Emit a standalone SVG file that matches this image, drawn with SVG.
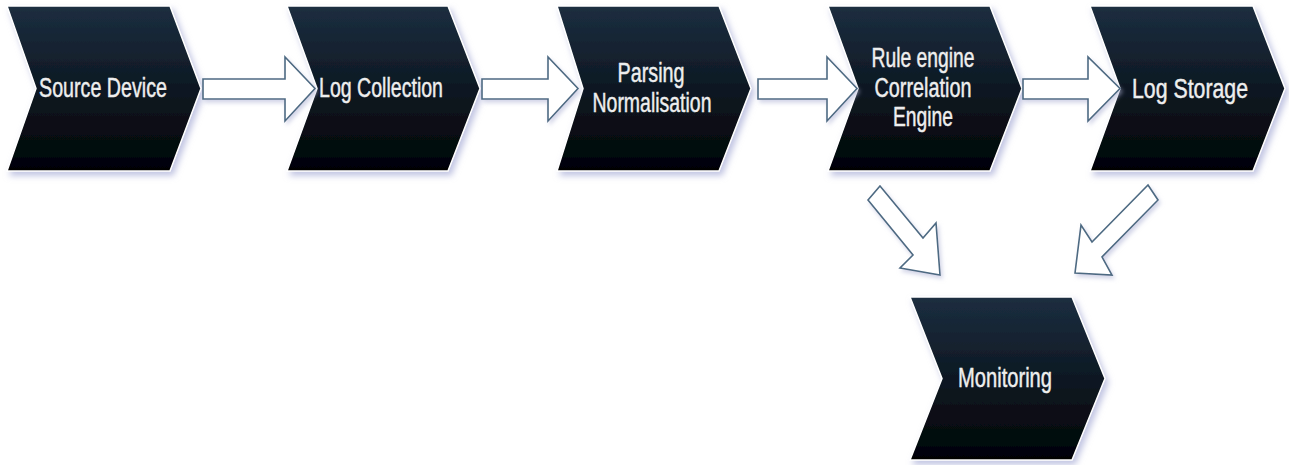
<svg xmlns="http://www.w3.org/2000/svg" width="1289" height="465" viewBox="0 0 1289 465">
  <defs>
    <linearGradient id="chevGrad" x1="0" y1="0" x2="0" y2="1">
      <stop offset="0" stop-color="#1c2e40"/>
      <stop offset="0.55" stop-color="#0c1620"/>
      <stop offset="1" stop-color="#020305"/>
    </linearGradient>
    <filter id="shadow" x="-10%" y="-10%" width="125%" height="130%">
      <feGaussianBlur in="SourceAlpha" stdDeviation="3"/>
      <feOffset dx="3" dy="4" result="b"/>
      <feFlood flood-color="#a6abd6" flood-opacity="0.7"/>
      <feComposite in2="b" operator="in"/>
      <feMerge>
        <feMergeNode/>
        <feMergeNode in="SourceGraphic"/>
      </feMerge>
    </filter>
    <filter id="ashadow" x="-20%" y="-20%" width="150%" height="150%">
      <feGaussianBlur in="SourceAlpha" stdDeviation="2"/>
      <feOffset dx="2" dy="3" result="b"/>
      <feFlood flood-color="#b4b8d8" flood-opacity="0.6"/>
      <feComposite in2="b" operator="in"/>
      <feMerge>
        <feMergeNode/>
        <feMergeNode in="SourceGraphic"/>
      </feMerge>
    </filter>
  </defs>
  <style>
    .chev { fill: url(#chevGrad); stroke: #ffffff; stroke-width: 1.5; filter: url(#shadow); }
    .lbl { font-family: "Liberation Sans", Arial, sans-serif; font-size: 27px; fill: #eeeeee; stroke: #eeeeee; stroke-width: 0.45; text-anchor: middle; }
    .arr { fill: #ffffff; stroke: #4d6a82; stroke-width: 1.6; stroke-linejoin: miter; filter: url(#ashadow); }
  </style>
  <rect width="1289" height="465" fill="#ffffff"/>

  <g id="node-source-device">
    <polygon class="chev" points="7,6 170,6 201,88.5 170,171 7,171 36,88.5"/>
    <text class="lbl" x="103" y="97" textLength="128" lengthAdjust="spacingAndGlyphs">Source Device</text>
  </g>
  <g id="node-log-collection">
    <polygon class="chev" points="287,6 448,6 480,88.5 448,171 287,171 317,88.5"/>
    <text class="lbl" x="381" y="97" textLength="124" lengthAdjust="spacingAndGlyphs">Log Collection</text>
  </g>
  <g id="node-parsing">
    <polygon class="chev" points="557,6 719,6 751,88.5 719,171 557,171 583,88.5"/>
    <text class="lbl" x="651" y="82" textLength="67" lengthAdjust="spacingAndGlyphs">Parsing</text>
    <text class="lbl" x="652" y="112" textLength="119" lengthAdjust="spacingAndGlyphs">Normalisation</text>
  </g>
  <g id="node-rule-engine">
    <polygon class="chev" points="828,6 990,6 1022,88.5 990,171 828,171 858,88.5"/>
    <text class="lbl" x="923" y="67" textLength="103" lengthAdjust="spacingAndGlyphs">Rule engine</text>
    <text class="lbl" x="923" y="97" textLength="97" lengthAdjust="spacingAndGlyphs">Correlation</text>
    <text class="lbl" x="923" y="126" textLength="60" lengthAdjust="spacingAndGlyphs">Engine</text>
  </g>
  <g id="node-log-storage">
    <polygon class="chev" points="1090,6 1253,6 1285,88.5 1253,171 1090,171 1120,88.5"/>
    <text class="lbl" x="1190" y="98" textLength="116" lengthAdjust="spacingAndGlyphs">Log Storage</text>
  </g>
  <g id="node-monitoring">
    <polygon class="chev" points="910,297 1072,297 1105,378.5 1072,460 910,460 942,378.5"/>
    <text class="lbl" x="1005" y="387" textLength="94" lengthAdjust="spacingAndGlyphs">Monitoring</text>
  </g>

  <g id="connectors">
    <polygon class="arr" points="203,79 285,79 285,57 315,88.5 285,121 285,99 203,99"/>
    <polygon class="arr" points="482,79 548,79 548,57 578,88.5 548,121 548,99 482,99"/>
    <polygon class="arr" points="758,79 827,79 827,57 857,88.5 827,121 827,99 758,99"/>
    <polygon class="arr" points="1023,79 1088,79 1088,57 1120,88.5 1088,121 1088,99 1023,99"/>
    <polygon class="arr" points="880,186 923,238 936,223 940,275 900,268 913,255 868,200"/>
    <polygon class="arr" points="1148,185 1158,200 1102,257 1112,275 1075,273 1081,225 1092,242"/>
  </g>
</svg>
